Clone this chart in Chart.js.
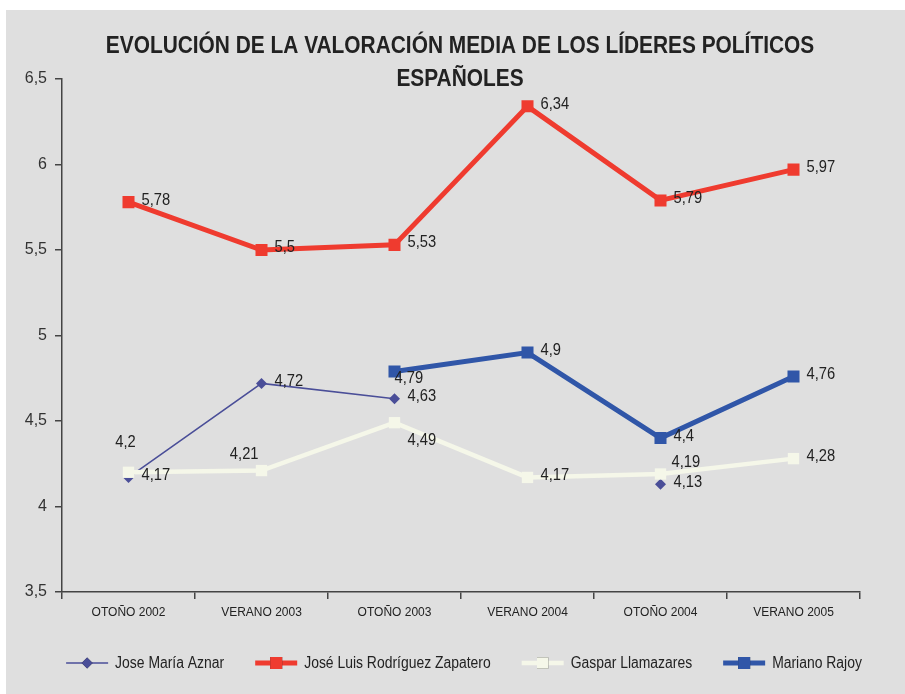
<!DOCTYPE html>
<html>
<head>
<meta charset="utf-8">
<title>Valoración media de los líderes políticos</title>
<script src="https://cdn.jsdelivr.net/npm/chart.js@4.4.0/dist/chart.umd.min.js"></script>
<style>
  html, body { margin: 0; padding: 0; background: #fff; }
  #wrap { width: 905px; height: 694px; }
</style>
</head>
<body>
<div id="wrap"><canvas id="lideresChart" width="905" height="694"></canvas></div>
<script>
// data
const categories = ["OTOÑO 2002", "VERANO 2003", "OTOÑO 2003", "VERANO 2004", "OTOÑO 2004", "VERANO 2005"];
const aznar = [4.17, 4.72, 4.63, null, 4.13, null];
const zapatero = [5.78, 5.5, 5.53, 6.34, 5.79, 5.97];
const llamazares = [4.2, 4.21, 4.49, 4.17, 4.19, 4.28];
const rajoy = [null, null, 4.79, 4.9, 4.4, 4.76];
const seriesNames = ["Jose María Aznar", "José Luis Rodríguez Zapatero", "Gaspar Llamazares", "Mariano Rajoy"];
const yTicks = [3.5, 4, 4.5, 5, 5.5, 6, 6.5];
const titleLines = ["EVOLUCIÓN DE LA VALORACIÓN MEDIA DE LOS LÍDERES POLÍTICOS", "ESPAÑOLES"];

const FONT = "'Liberation Sans', Arial, sans-serif";
const fmt = v => String(v).replace(".", ",");

// the original uses a narrow face; squeeze the regular one horizontally
function squeezedText(ctx, text, x, y, sx) {
    ctx.save();
    ctx.translate(x, y);
    ctx.scale(sx, 1);
    ctx.fillText(text, 0, 0);
    ctx.restore();
}

// a few labels sit somewhere other than to the right of the point
const labelNudge = {
    "2:0": { dx: -3, dy: -30, align: "center" },
    "2:1": { dx: -3, dy: -16, align: "right" },
    "2:2": { dx: 13, dy: 18, align: "left" },
    "2:4": { dx: 11, dy: -11, align: "left" },
    "3:2": { dx: 0, dy: 7, align: "left" },
};

const backdrop = {
    id: "backdrop",
    beforeDraw(chart) {
        const ctx = chart.ctx;
        ctx.save();
        ctx.fillStyle = "#dfdfdf";
        ctx.fillRect(6, 10, chart.width - 6, chart.height - 10);
        ctx.restore();
    },
    afterDraw(chart) {
        const ctx = chart.ctx;
        ctx.save();
        ctx.fillStyle = "#222";
        ctx.textAlign = "center";
        ctx.textBaseline = "middle";
        ctx.font = "bold 24px " + FONT;
        squeezedText(ctx, titleLines[0], 460, 46, 0.87);
        squeezedText(ctx, titleLines[1], 460, 79, 0.87);

        // legend: line + marker, then name
        const sx = 0.87;
        ctx.font = "16px " + FONT;
        ctx.textAlign = "left";
        const iconW = 42, gap = 7, sep = 31;
        const items = chart.data.datasets;
        const widths = items.map(ds => ctx.measureText(ds.label).width * sx);
        let total = 0;
        items.forEach((ds, i) => {
            total += iconW + gap + widths[i];
            if (i < items.length - 1) total += sep;
        });
        let x = 464 - total / 2;
        const y = 663;
        items.forEach((ds, i) => {
            ctx.strokeStyle = ds.borderColor;
            ctx.lineWidth = ds.borderWidth;
            ctx.beginPath();
            ctx.moveTo(x, y);
            ctx.lineTo(x + iconW, y);
            ctx.stroke();
            Chart.helpers.drawPoint(ctx, {
                pointStyle: ds.pointStyle,
                radius: ds.pointRadius,
                borderWidth: 0,
                rotation: 0,
            }, x + iconW / 2, y);
            ctx.fillStyle = ds.pointBackgroundColor;
            ctx.fill();
            ctx.fillStyle = "#222";
            squeezedText(ctx, ds.label, x + iconW + gap, y + 1, sx);
            x += iconW + gap + widths[i] + sep;
        });
        ctx.restore();
    },
};

const valueLabels = {
    id: "valueLabels",
    afterDatasetsDraw(chart) {
        const ctx = chart.ctx;
        ctx.save();
        ctx.font = "16px " + FONT;
        ctx.fillStyle = "#222";
        ctx.textBaseline = "middle";
        chart.data.datasets.forEach((ds, di) => {
            const meta = chart.getDatasetMeta(di);
            meta.data.forEach((pt, pi) => {
                const v = ds.data[pi];
                if (v === null) return;
                const n = labelNudge[di + ":" + pi] || { dx: 13, dy: -2, align: "left" };
                ctx.textAlign = n.align;
                squeezedText(ctx, fmt(v), pt.x + n.dx, pt.y + n.dy, 0.92);
            });
        });
        ctx.restore();
    },
};

function series(label, data, color, width, style, radius, order) {
    return {
        label: label,
        data: data,
        borderColor: color,
        backgroundColor: color,
        borderWidth: width,
        pointStyle: style,
        pointRadius: radius,
        pointHoverRadius: radius,
        pointBackgroundColor: color,
        pointBorderWidth: 0,
        tension: 0,
        spanGaps: false,
        order: order,
    };
}

new Chart(document.getElementById("lideresChart"), {
    type: "line",
    data: {
        labels: categories,
        datasets: [
            series(seriesNames[0], aznar, "#4a4e98", 1.5, "rectRot", 5.5, 4),
            series(seriesNames[1], zapatero, "#ef3b2f", 5, "rect", 8.5, 1),
            series(seriesNames[2], llamazares, "#f5f7e9", 4.5, "rect", 8, 3),
            series(seriesNames[3], rajoy, "#3056a8", 5, "rect", 8.5, 2),
        ],
    },
    options: {
        responsive: false,
        animation: false,
        events: [],
        layout: { padding: { left: 0, right: 45, top: 79, bottom: 62 } },
        plugins: {
            legend: { display: false },
            title: { display: false },
            tooltip: { enabled: false },
        },
        scales: {
            x: {
                offset: true,
                grid: { offset: true, drawOnChartArea: false, drawTicks: true, tickLength: 7, color: "#444", lineWidth: 1.5 },
                border: { display: true, color: "#444", width: 1.5 },
                ticks: { color: "#222", font: { family: FONT, size: 12 }, padding: 6, maxRotation: 0, autoSkip: false },
                afterFit: s => { s.height = 40; },
            },
            y: {
                min: yTicks[0],
                max: yTicks[yTicks.length - 1],
                afterBuildTicks: s => { s.ticks = yTicks.map(v => ({ value: v })); },
                grid: { drawOnChartArea: false, drawTicks: true, tickLength: 7, color: "#444", lineWidth: 1.5 },
                border: { display: true, color: "#444", width: 1.5 },
                ticks: { color: "#333", font: { family: FONT, size: 16 }, padding: 8, callback: v => fmt(v) },
                afterFit: s => { s.width = 62; },
            },
        },
    },
    plugins: [backdrop, valueLabels],
});
</script>
</body>
</html>
